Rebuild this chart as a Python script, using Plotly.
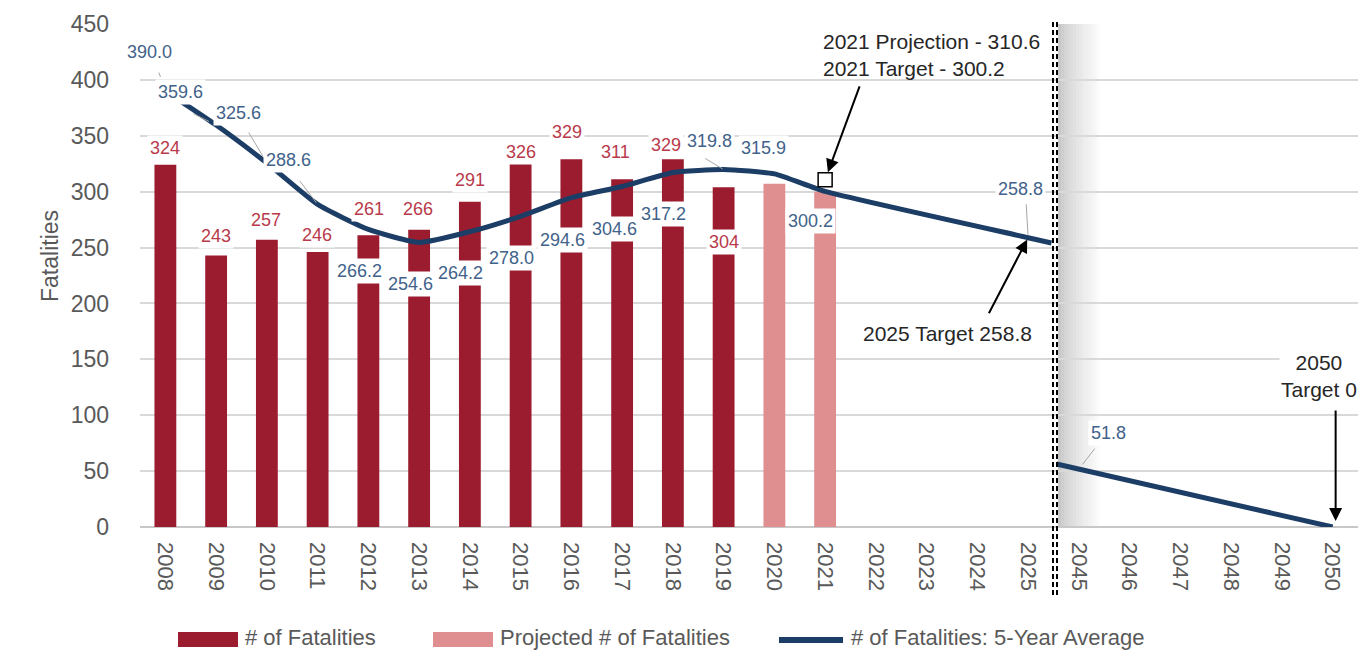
import plotly.graph_objects as go

# ---------------- data ----------------
categories = ["2008", "2009", "2010", "2011", "2012", "2013", "2014", "2015", "2016",
              "2017", "2018", "2019", "2020", "2021", "2022", "2023", "2024", "2025",
              "2045", "2046", "2047", "2048", "2049", "2050"]

fatality_years = ["2008", "2009", "2010", "2011", "2012", "2013", "2014", "2015",
                  "2016", "2017", "2018", "2019"]
fatalities = [324, 243, 257, 246, 261, 266, 291, 326, 329, 311, 329, 304]

projected_years = ["2020", "2021"]
projected = [307, 300]

avg_years = ["2008", "2009", "2010", "2011", "2012", "2013", "2014", "2015", "2016",
             "2017", "2018", "2019", "2020", "2021", "2025"]
avg_values = [390.0, 359.6, 325.6, 288.6, 266.2, 254.6, 264.2, 278.0, 294.6,
              304.6, 317.2, 319.8, 315.9, 300.2, 258.8]

long_years = ["2045", "2050"]
long_values = [51.8, 0.0]

proj_2021_year = "2021"
proj_2021_value = 310.6

# ---------------- styling ----------------
FONT = "Liberation Sans, Arial, sans-serif"
DARK_RED = "#9C1C2F"
PINK = "#E08F91"
NAVY = "#1C3D65"
BLUE_TXT = "#41628A"
RED_TXT = "#B83A4B"
GRAY_TXT = "#595959"
W, H = 1361, 651
ML, MR, MT, MB = 140, 3, 24, 124
PW = W - ML - MR
PH = H - MT - MB
X_RANGE = [-0.5, 23.5]
Y_RANGE = [0, 450]

idx = {c: i for i, c in enumerate(categories)}
BREAK = 17.5  # position of the axis break between 2025 and 2045


def px(xp):
    return (xp - ML) / PW


def py(yp):
    return (H - MB - yp) / PH


def dx(xp):  # pixel -> x data coordinate (for layout decorations)
    return X_RANGE[0] + px(xp) * (X_RANGE[1] - X_RANGE[0])


fig = go.Figure()

fig.add_trace(go.Bar(x=[idx[y] for y in fatality_years], y=fatalities, width=0.43,
                     marker=dict(color=DARK_RED, line=dict(width=0)),
                     name="# of Fatalities", showlegend=False))
fig.add_trace(go.Bar(x=[idx[y] for y in projected_years], y=projected, width=0.43,
                     marker=dict(color=PINK, line=dict(width=0)),
                     name="Projected # of Fatalities", showlegend=False))

# 5-year average line, extended to the axis break
ax_x = [idx[y] for y in avg_years]
ax_y = list(avg_values)
slope = (ax_y[-1] - ax_y[-2]) / (ax_x[-1] - ax_x[-2])
ext = BREAK - 0.04
ax_x.append(ext)
ax_y.append(ax_y[-1] + slope * (ext - ax_x[-2]))
fig.add_trace(go.Scatter(x=ax_x, y=ax_y, mode="lines",
                         line=dict(color=NAVY, width=5, shape="spline", smoothing=0.5),
                         showlegend=False, hoverinfo="skip"))

lx = [idx[y] for y in long_years]
ly = list(long_values)
slope2 = (ly[1] - ly[0]) / (lx[1] - lx[0])
start = BREAK + 0.06
fig.add_trace(go.Scatter(x=[start] + lx, y=[ly[0] + slope2 * (start - lx[0])] + ly,
                         mode="lines", line=dict(color=NAVY, width=5),
                         showlegend=False, hoverinfo="skip"))

fig.add_trace(go.Scatter(x=[idx[proj_2021_year]], y=[proj_2021_value], mode="markers",
                         marker=dict(symbol="square", size=14, color="white",
                                     line=dict(color="black", width=1.5)),
                         showlegend=False, hoverinfo="skip"))

annotations = []

# bar value labels (xshift, yshift)
red_off = [(0, 17), (0, 19), (-1, 20), (-1, 17), (1, 26), (-1, 21), (0, 22),
           (0, 11), (-4, 27), (-7, 27), (-7, 14), (0, -55)]
for yr, v, (sx, sy) in zip(fatality_years, fatalities, red_off):
    annotations.append(dict(x=idx[yr], y=v, text=str(v), showarrow=False,
                            xshift=sx, yshift=sy, bgcolor="white", borderpad=2,
                            font=dict(family=FONT, size=18, color=RED_TXT)))

# 5-year average labels
blue_off = [(-16, 39), (-36, 33), (-28, 50), (-29, 44), (-9, -42), (-9, -42),
            (-9, -41), (-9, -42), (-9, -42), (-8, -42), (-9, -42), (-14, 29),
            (-11, 26), (-15, -30), (-8, 49)]
for yr, v, (sx, sy) in zip(avg_years, avg_values, blue_off):
    annotations.append(dict(x=idx[yr], y=v, text=f"{v:.1f}", showarrow=False,
                            xshift=sx, yshift=sy, bgcolor="white", borderpad=2,
                            font=dict(family=FONT, size=18, color=BLUE_TXT)))
annotations.append(dict(x=idx[long_years[0]], y=long_values[0], text=f"{long_values[0]:.1f}",
                        showarrow=False, xshift=30, yshift=36, bgcolor="white", borderpad=2,
                        font=dict(family=FONT, size=18, color=BLUE_TXT)))

# leader lines
leaders = [("2008", avg_values[0], -7, -20, 15), ("2009", avg_values[1], -24, -12, 8),
           ("2010", avg_values[2], -19, -32, 8), ("2011", avg_values[3], -19, -25, 2),
           ("2019", avg_values[11], -20, -12, 1), ("2025", avg_values[14], -2, -35, 3),
           ("2045", long_values[0], 17, -22, 6)]
for yr, v, axp, ayp, so in leaders:
    annotations.append(dict(x=idx[yr], y=v, text="", showarrow=True, arrowhead=0,
                            arrowwidth=1, arrowcolor="#A6A6A6", ax=axp, ay=ayp,
                            standoff=so))

# black callout arrows
annotations.append(dict(x=idx[proj_2021_year], y=proj_2021_value, text="", showarrow=True,
                        arrowhead=2, arrowsize=1.3, arrowwidth=2, arrowcolor="black",
                        ax=35, ay=-95, standoff=8))
annotations.append(dict(x=idx["2025"], y=avg_values[-1], text="", showarrow=True,
                        arrowhead=2, arrowsize=1.3, arrowwidth=2, arrowcolor="black",
                        ax=-40, ay=77, standoff=2))
annotations.append(dict(x=idx["2050"], y=long_values[-1], text="", showarrow=True,
                        arrowhead=2, arrowsize=1.3, arrowwidth=2, arrowcolor="black",
                        ax=0, ay=-118, standoff=6, xshift=3))

annotations.append(dict(xref="paper", yref="paper", x=px(821), y=py(55), xanchor="left",
                        yanchor="middle", align="left", showarrow=False,
                        text="2021 Projection - 310.6<br>2021 Target - 300.2",
                        font=dict(family=FONT, size=21, color="#262626")))
annotations.append(dict(xref="paper", yref="paper", x=px(1034), y=py(333), xanchor="right",
                        yanchor="middle", showarrow=False, text="2025 Target 258.8",
                        bgcolor="white", font=dict(family=FONT, size=21, color="#262626")))
annotations.append(dict(xref="paper", yref="paper", x=px(1359), y=py(376), xanchor="right",
                        yanchor="middle", showarrow=False, text="2050<br>Target 0",
                        bgcolor="white", font=dict(family=FONT, size=21, color="#262626")))

# y-axis title
annotations.append(dict(xref="paper", yref="paper", x=px(35), y=py(256), textangle=-90,
                        showarrow=False, text="Fatalities",
                        font=dict(family=FONT, size=23, color=GRAY_TXT)))

# custom legend
shapes = []
leg_y = 637
shapes.append(dict(type="rect", xref="paper", yref="paper", x0=px(178), x1=px(238),
                   y0=py(647), y1=py(632), fillcolor=DARK_RED, line=dict(width=0)))
shapes.append(dict(type="rect", xref="paper", yref="paper", x0=px(433), x1=px(493),
                   y0=py(647), y1=py(632), fillcolor=PINK, line=dict(width=0)))
shapes.append(dict(type="line", xref="paper", yref="paper", x0=px(779), x1=px(843),
                   y0=py(640), y1=py(640), line=dict(color=NAVY, width=6)))
for xl, t in [(243, "# of Fatalities"), (498, "Projected # of Fatalities"),
              (849, "# of Fatalities: 5-Year Average")]:
    annotations.append(dict(xref="paper", yref="paper", x=px(xl), y=py(leg_y),
                            xanchor="left", yanchor="middle", showarrow=False, text=t,
                            font=dict(family=FONT, size=22, color=GRAY_TXT)))

# gradient shading to the right of the break (under the gridlines)
n = 14
for k in range(n):
    t = k / n
    g = int(200 + 55 * (t ** 0.75))
    shapes.append(dict(type="rect", xref="x", yref="y",
                       x0=dx(1058 + 3 * k), x1=dx(1058 + 3 * (k + 1)),
                       y0=Y_RANGE[0], y1=Y_RANGE[1], fillcolor=f"rgb({g},{g},{g})",
                       line=dict(width=0), layer="below"))

# double dashed break line
for xb in (1053, 1057):
    shapes.append(dict(type="line", xref="paper", yref="paper", x0=px(xb), x1=px(xb),
                       y0=py(22), y1=py(598),
                       line=dict(color="black", width=2, dash="5px,3px")))

fig.update_layout(
    width=W, height=H,
    margin=dict(l=ML, r=MR, t=MT, b=MB, autoexpand=False),
    plot_bgcolor="white", paper_bgcolor="white",
    barmode="overlay", showlegend=False,
    font=dict(family=FONT, color=GRAY_TXT),
    annotations=annotations, shapes=shapes,
)
fig.update_xaxes(range=X_RANGE, tickmode="array", tickvals=list(range(len(categories))),
                 ticktext=categories, tickangle=90, showgrid=False, zeroline=False,
                 showline=False, ticks="", ticklabelstandoff=14,
                 tickfont=dict(family=FONT, size=22, color=GRAY_TXT))
fig.update_yaxes(range=Y_RANGE, dtick=50, showgrid=True, gridcolor="#D9D9D9", gridwidth=2,
                 zeroline=True, zerolinecolor="#C8C8C8", zerolinewidth=2, showline=False,
                 ticks="", ticklabelstandoff=30,
                 tickfont=dict(family=FONT, size=23, color=GRAY_TXT))

fig.write_html("out.html", config={"displayModeBar": False},
               post_script="document.body.style.margin='0px';document.body.style.overflow='hidden';")
